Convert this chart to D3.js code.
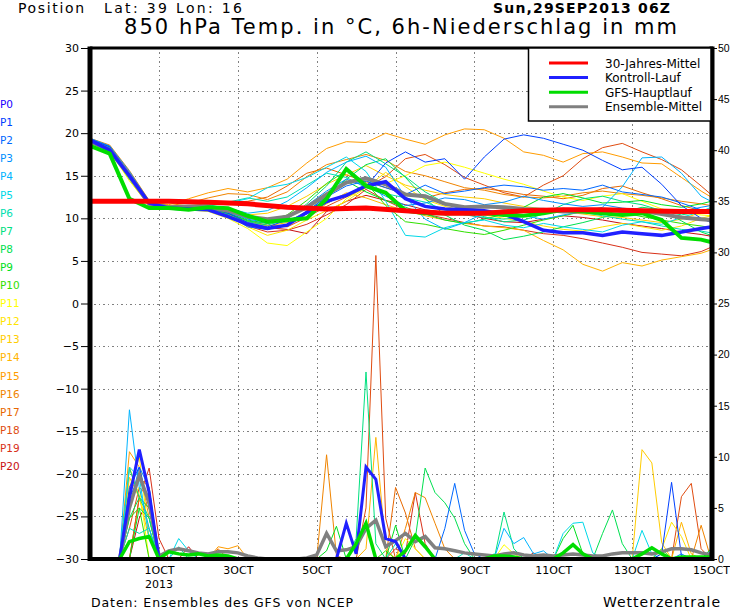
<!DOCTYPE html>
<html>
<head>
<meta charset="utf-8">
<script src="https://cdn.jsdelivr.net/npm/d3@7"></script>
<style>
body { margin: 0; background: #fff; }
svg { display: block; font-family: "DejaVu Sans", sans-serif; }
</style>
</head>
<body>
<svg id="chart"></svg>
<script>
// run start 29 Sep 2013 06Z, hours from there
let runStart = Date.UTC(2013, 8, 29, 6)
let lastHour = 378

let tempHours = [0,12,24,36,48,60,72,84,96,108,120,132,144,156,168,180,192,204,216,228,240,252,264,276,288,300,312,324,336,348,360,372,378]
let climHours = [0,24,48,72,96,120,144,168,192,216,240,264,288,312,336,360,378]

let tempClim = [12.0,12.0,12.0,11.9,11.7,11.3,11.1,11.2,10.9,10.6,10.6,10.9,11.0,11.0,10.9,10.8,10.8]
let tempGfs = [18.5,17.6,12.3,11.2,11.2,11.0,11.3,11.2,10.3,9.6,9.8,10.0,12.3,15.8,13.8,13.0,10.9,10.6,10.6,10.6,10.6,10.4,10.3,10.6,11.0,10.8,10.6,10.4,10.6,9.8,7.7,7.5,7.2]
let tempControl = [19.2,18.0,15.0,11.8,11.2,11.1,11.0,10.2,9.3,8.8,9.2,10.7,12.0,12.7,13.8,14.3,12.3,11.4,11.1,11.0,10.9,10.5,9.6,8.6,8.3,8.3,8.0,8.4,8.2,8.0,8.4,8.8,9.0]
let tempMean = [19.0,18.0,15.0,11.7,11.3,11.4,11.3,10.9,10.2,9.9,10.2,11.3,12.8,14.2,14.7,14.0,12.8,12.6,11.7,11.3,11.4,11.3,11.1,11.0,10.8,10.8,11.0,10.9,10.9,10.5,10.1,9.9,9.8]

let tempP1 = [19.3,18.4,15.2,11.9,11.3,11.2,11.3,10.6,9.5,9.0,9.8,10.5,11.8,12.8,13.7,16.5,17.8,16.6,17.0,14.6,17.2,19.3,19.8,19.4,18.7,18.0,16.8,15.7,16.0,14.0,11.5,10.0,9.5]
let tempP2 = [19.2,18.2,14.8,11.7,11.2,11.1,11.0,10.4,9.0,8.7,9.3,10.8,12.5,13.8,14.4,13.6,12.8,13.9,12.9,13.2,13.6,13.9,13.7,13.3,13.5,13.3,13.9,13.1,12.8,12.5,11.8,11.0,10.6]
let tempP3 = [19.4,18.5,15.5,12.0,11.4,11.3,11.2,10.7,9.9,9.5,10.1,11.5,13.2,14.6,13.8,12.6,11.5,11.8,12.4,12.2,11.6,11.9,12.6,12.1,11.7,11.4,11.6,11.2,11.0,10.6,10.8,11.3,11.5]
let tempP4 = [19.1,18.1,14.9,11.8,11.3,11.3,11.5,11.2,10.6,10.9,12.0,13.6,15.4,16.6,17.3,16.0,12.5,9.9,8.7,9.5,10.6,11.0,10.3,9.9,10.4,10.8,11.3,13.7,17.1,17.2,15.3,12.6,12.0]
let tempP5 = [19.2,18.3,15.0,11.8,11.4,11.5,11.6,11.8,12.3,13.6,14.0,14.8,16.0,17.2,15.5,12.0,8.0,7.8,8.9,9.5,9.8,9.2,8.9,9.4,9.0,8.7,8.4,9.2,9.6,9.3,10.1,10.8,11.3]
let tempP6 = [19.3,18.4,15.2,11.9,11.3,11.2,11.4,11.9,12.4,12.0,12.5,13.9,15.3,14.8,13.6,12.9,12.4,11.9,11.0,10.4,10.1,9.9,10.2,10.6,10.9,10.7,10.3,9.9,9.6,9.1,8.7,8.5,8.3]
let tempP7 = [19.0,18.0,14.6,11.6,11.2,11.2,11.0,10.3,9.6,9.2,9.9,11.7,13.8,16.6,17.8,16.4,14.9,13.1,11.8,10.9,10.2,9.6,9.8,10.5,11.6,12.3,12.6,12.0,11.6,10.9,10.4,10.8,11.0]
let tempP8 = [19.2,18.2,14.9,11.7,11.3,11.3,11.2,10.5,9.7,9.4,9.6,10.8,12.6,14.6,16.3,17.0,14.8,12.3,10.4,9.2,8.6,7.5,7.9,8.4,9.0,9.5,10.1,10.7,11.3,11.0,9.7,8.4,8.0]
let tempP9 = [19.1,18.2,14.7,11.6,11.2,11.1,11.1,10.6,9.8,9.4,10.0,11.4,12.9,14.4,13.1,12.1,11.3,10.5,9.8,9.4,9.9,10.5,11.3,12.5,12.9,12.4,11.8,11.9,12.1,11.6,11.3,11.7,12.0]
let tempP10 = [19.3,18.3,15.1,11.9,11.4,11.4,11.3,10.8,10.0,9.7,10.4,12.1,14.1,15.6,14.2,11.5,9.6,9.3,8.8,8.4,8.1,8.6,9.2,9.8,10.3,10.8,11.1,10.7,10.2,9.8,9.4,9.1,8.9]
let tempP11 = [19.0,17.9,14.4,11.5,11.1,11.0,10.8,10.0,8.8,7.1,6.8,8.4,10.0,12.3,13.7,14.1,15.0,16.2,16.6,16.0,15.3,14.6,14.0,13.2,12.5,12.1,12.6,12.9,12.0,11.1,10.6,10.4,10.3]
let tempP12 = [19.1,18.1,14.7,11.6,11.2,11.1,11.0,10.3,9.0,8.0,8.6,9.8,10.9,12.0,13.6,15.4,13.7,12.2,11.4,10.9,10.4,10.0,9.6,9.1,8.7,8.5,9.0,9.4,9.0,8.6,9.1,10.0,10.3]
let tempP13 = [19.2,18.2,14.9,11.7,11.3,11.2,11.2,10.9,10.4,10.6,11.4,12.6,14.0,15.1,16.2,15.0,13.9,13.3,12.8,12.5,12.3,11.8,11.4,11.1,10.8,10.5,10.2,10.1,9.8,9.5,9.9,10.7,11.2]
let tempP14 = [19.0,18.0,14.6,11.6,11.2,11.1,10.9,10.4,9.6,9.1,9.5,10.2,11.7,13.0,12.4,11.6,10.9,10.3,9.8,9.4,9.1,8.9,8.6,7.4,6.3,4.6,3.8,4.8,4.4,5.1,5.5,5.9,6.3]
let tempP15 = [19.3,18.5,15.4,12.0,11.6,12.3,13.0,13.5,13.1,13.6,14.6,16.5,18.2,19.0,18.9,20.0,19.3,18.7,19.8,20.5,20.4,19.4,17.8,17.4,16.6,17.6,17.8,17.2,16.5,16.4,14.8,13.2,12.5]
let tempP16 = [19.4,18.6,15.6,12.1,11.5,11.8,12.4,12.9,12.8,12.2,13.1,14.9,16.3,16.9,17.5,16.8,15.5,15.0,14.3,13.6,13.3,12.8,12.5,12.4,12.6,13.0,13.2,12.9,12.7,12.4,12.0,11.7,11.5]
let tempP17 = [19.2,18.3,15.0,11.8,11.4,11.5,11.7,11.9,12.0,12.5,13.8,15.3,15.9,15.1,14.3,13.6,12.9,12.4,13.0,13.4,13.5,13.2,12.8,12.6,12.3,12.7,13.5,13.8,13.0,12.3,11.5,10.9,10.6]
let tempP18 = [19.1,18.2,14.8,11.7,11.3,11.2,11.1,10.6,9.7,9.2,9.0,10.1,11.4,12.5,13.6,14.9,17.0,17.5,16.3,14.8,13.9,13.0,12.5,13.9,15.0,17.0,18.3,18.8,17.8,16.9,15.7,13.8,12.8]
let tempP19 = [19.3,18.4,15.1,11.8,11.3,11.1,10.9,10.2,9.1,8.4,8.6,9.3,10.4,11.6,13.4,12.1,11.0,10.5,10.0,9.5,9.1,9.0,8.6,8.2,8.0,7.6,7.1,6.6,6.0,5.8,5.6,6.1,6.6]
let tempP20 = [19.2,18.3,14.9,11.7,11.3,11.2,11.0,10.4,9.4,8.9,8.7,8.2,10.8,12.0,12.7,12.1,11.6,11.0,10.7,10.5,10.0,9.6,9.5,9.9,10.3,10.1,9.8,9.4,9.1,8.8,8.4,8.1,7.9]

// 6h precipitation, [step, mm] with step = 6h after run start; dry steps are 0
let rainControl = [[4,6.0],[5,10.7],[6,6.5],[26,3.5],[27,0.5],[28,9.0],[29,7.8],[30,2.0],[31,1.7]]
let rainGfs = [[4,1.7],[5,2.0],[6,2.2],[8,0.7],[9,0.5],[10,0.4],[11,0.5],[12,0.3],[13,0.4],[14,0.3],[27,1.5],[28,3.5],[32,0.8],[33,2.3],[34,1.2],[41,0.3],[42,0.3],[43,0.2],[48,0.6],[49,1.4],[50,0.5],[56,0.5],[57,1.1],[58,0.5],[60,0.2],[61,0.2],[62,0.2],[63,0.2]]
let rainMean = [0,0,0,0,5.0,8.2,5.5,0.3,0.8,1.0,0.8,0.6,0.5,0.7,0.7,0.6,0.3,0.1,0,0,0,0,0.1,0.4,2.5,0.8,0.9,1.2,3.0,3.8,1.2,1.8,2.5,1.7,2.2,1.1,1.0,0.8,0.6,0.5,0.4,0.3,0.5,0.6,0.4,0.3,0.4,0.3,0.4,0.5,0.4,0.3,0.3,0.5,0.6,0.6,0.6,0.5,0.7,1.0,1.0,0.9,0.6,0.4]

let rainP1 = [[4,7.0],[5,9.0],[6,5.0],[58,0.5],[59,7.5],[60,0.3]]
let rainP2 = [[4,6.0],[5,8.0],[6,6.0],[36,3.0],[37,7.4],[38,2.8],[39,0.5]]
let rainP3 = [[4,5.0],[5,9.0],[6,7.0],[60,0.5],[63,0.8]]
let rainP4 = [[4,14.6],[5,7.0],[6,3.0],[42,3.0],[43,1.5],[44,2.1],[45,0.5],[46,0.8]]
let rainP5 = [[4,9.0],[5,8.0],[6,2.0],[9,2.0],[10,0.8],[41,0.5],[48,2.5],[49,3.5],[50,3.6],[51,0.6],[56,2.8],[57,0.5]]
let rainP6 = [[4,3.0],[5,2.5],[6,3.0],[9,1.2],[31,1.5],[38,0.6]]
let rainP7 = [[4,8.9],[5,6.0],[6,4.0],[27,2.0],[28,18.3],[29,1.5],[42,4.6],[43,1.0]]
let rainP8 = [[4,4.0],[5,6.0],[6,5.0],[33,2.0],[34,8.9],[35,6.5],[36,5.5],[37,4.0],[38,1.5],[52,2.5],[53,4.8],[54,1.5]]
let rainP9 = [[5,5.0],[6,4.0],[24,0.8],[25,3.2],[31,3.3],[48,2.0],[49,3.3],[50,0.5],[63,1.0]]
let rainP10 = [[4,4.0],[5,5.0],[30,0.8],[58,1.0]]
let rainP11 = [[4,6.0],[5,7.0],[32,2.0],[33,1.0],[42,1.4],[43,0.5]]
let rainP12 = [[4,7.0],[5,10.0],[6,2.0],[58,1.0],[59,3.6],[60,2.2]]
let rainP13 = [[4,8.0],[5,6.0],[6,3.0],[56,10.7],[57,9.4],[58,1.6]]
let rainP14 = [[4,9.0],[5,6.0],[6,2.0],[28,1.0],[29,11.9],[30,1.0],[60,3.6],[61,0.5]]
let rainP15 = [[4,10.5],[5,9.0],[6,4.0],[13,1.2],[14,1.0],[15,1.3]]
let rainP16 = [[4,5.0],[5,8.0],[6,7.0],[24,10.2],[25,0.3],[32,3.0],[33,6.5],[34,6.0],[35,3.5],[36,1.0],[62,3.3]]
let rainP17 = [[5,6.0],[6,5.0],[13,1.0],[31,7.0],[32,4.5],[33,1.0]]
let rainP18 = [[4,3.0],[5,7.0],[6,6.0],[28,5.0],[29,29.7],[30,4.0],[60,6.1],[61,7.4],[62,1.0]]
let rainP19 = [[5,6.0],[6,8.9],[7,2.0],[31,1.0],[32,0.5],[33,6.5],[34,1.5],[45,0.6]]
let rainP20 = [[5,4.0],[6,6.0],[10,1.2]]

let memberNames = ['P0','P1','P2','P3','P4','P5','P6','P7','P8','P9','P10','P11','P12','P13','P14','P15','P16','P17','P18','P19','P20']
let memberColors = ['#2000ff','#0040ff','#0068ff','#0090ff','#00b4ff','#00d8e8','#00e0b0','#00e080','#00e050','#00e020','#30e000','#ffff00','#ffe400','#ffcc00','#ffb400','#ff9c00','#f08400','#e86800','#e04c10','#d83018','#c81010']

let legendNames = ['30-Jahres-Mittel','Kontroll-Lauf','GFS-Hauptlauf','Ensemble-Mittel']
let legendColors = ['#ff0000','#2020ff','#00dd00','#808080']

let tempTicks = [-30,-25,-20,-15,-10,-5,0,5,10,15,20,25,30]
let rainTicks = [0,5,10,15,20,25,30,35,40,45,50]

let width = 730
let height = 609
let plotLeft = 90, plotRight = 711, plotTop = 48, plotBottom = 559

let svg = d3.select('#chart').attr('width', width).attr('height', height)
svg.append('rect').attr('width', width).attr('height', height).attr('fill', '#fff')

let hourDate = (h) => new Date(runStart + h * 3600e3)

let xScale = d3.scaleUtc().domain([hourDate(0), hourDate(lastHour)]).range([plotLeft, plotRight])
let yTemp = d3.scaleLinear().domain([-30, 30]).range([plotBottom, plotTop])
let yRain = d3.scaleLinear().domain([0, 50]).range([plotBottom, plotTop])

let memberTemps = [tempControl, tempP1, tempP2, tempP3, tempP4, tempP5, tempP6, tempP7, tempP8, tempP9, tempP10,
    tempP11, tempP12, tempP13, tempP14, tempP15, tempP16, tempP17, tempP18, tempP19, tempP20]
let memberRains = [rainControl, rainP1, rainP2, rainP3, rainP4, rainP5, rainP6, rainP7, rainP8, rainP9, rainP10,
    rainP11, rainP12, rainP13, rainP14, rainP15, rainP16, rainP17, rainP18, rainP19, rainP20]

let steps = lastHour / 6 + 1
let rainSeries = (events) => {
    let vals = new Array(steps).fill(0)
    events.forEach(([s, v]) => { vals[s] = v })
    return vals
}

let tempLine = (hours) => d3.line()
    .x((d, i) => xScale(hourDate(hours[i])))
    .y((d) => yTemp(d))

let rainLine = d3.line()
    .x((d, i) => xScale(hourDate(i * 6)))
    .y((d) => yRain(d))

// grid
let dayTicks = d3.utcDay.every(2).range(hourDate(0), hourDate(lastHour + 1))
let grid = svg.append('g').attr('stroke', '#808080').attr('stroke-width', 1).attr('stroke-dasharray', '1,3,2,3')
grid.selectAll('.hgrid')
    .data(tempTicks.filter((t) => t > -30 && t < 30))
    .enter()
    .append('line')
    .attr('x1', plotLeft).attr('x2', plotRight)
    .attr('y1', (d) => Math.round(yTemp(d)) + 0.5).attr('y2', (d) => Math.round(yTemp(d)) + 0.5)
grid.selectAll('.vgrid')
    .data(dayTicks.filter((d) => xScale(d) < plotRight - 2))
    .enter()
    .append('line')
    .attr('x1', (d) => Math.round(xScale(d)) + 0.5).attr('x2', (d) => Math.round(xScale(d)) + 0.5)
    .attr('y1', plotTop).attr('y2', plotBottom)

svg.append('clipPath').attr('id', 'plot')
    .append('rect').attr('x', plotLeft).attr('y', plotTop).attr('width', plotRight - plotLeft).attr('height', plotBottom - plotTop)

let plot = svg.append('g').attr('clip-path', 'url(#plot)').attr('fill', 'none')

// ensemble members, thin
for (let i = 20; i >= 1; i--) {
    plot.append('path')
        .attr('d', tempLine(tempHours)(memberTemps[i]))
        .attr('stroke', memberColors[i])
        .attr('stroke-width', 1)
    plot.append('path')
        .attr('d', rainLine(rainSeries(memberRains[i])))
        .attr('stroke', memberColors[i])
        .attr('stroke-width', 1)
}

// thick lines
plot.append('path').attr('d', tempLine(tempHours)(tempMean)).attr('stroke', legendColors[3]).attr('stroke-width', 4)
plot.append('path').attr('d', rainLine(rainMean)).attr('stroke', legendColors[3]).attr('stroke-width', 3.5)
plot.append('path').attr('d', tempLine(tempHours)(tempControl)).attr('stroke', legendColors[1]).attr('stroke-width', 3.5)
plot.append('path').attr('d', rainLine(rainSeries(rainControl))).attr('stroke', legendColors[1]).attr('stroke-width', 3)
plot.append('path').attr('d', tempLine(tempHours)(tempGfs)).attr('stroke', legendColors[2]).attr('stroke-width', 4)
plot.append('path').attr('d', rainLine(rainSeries(rainGfs))).attr('stroke', legendColors[2]).attr('stroke-width', 3.5)
plot.append('path').attr('d', tempLine(climHours)(tempClim)).attr('stroke', legendColors[0]).attr('stroke-width', 5)

// frame
let frame = svg.append('g').attr('stroke', '#000')
frame.append('line').attr('x1', plotLeft).attr('x2', plotRight + 2).attr('y1', plotTop).attr('y2', plotTop).attr('stroke-width', 3)
frame.append('line').attr('x1', plotLeft).attr('x2', plotLeft).attr('y1', plotTop - 1.5).attr('y2', plotBottom + 2).attr('stroke-width', 5)
frame.append('line').attr('x1', plotRight + 1).attr('x2', plotRight + 1).attr('y1', plotTop - 1.5).attr('y2', plotBottom + 2).attr('stroke-width', 5)
frame.append('line').attr('x1', plotLeft).attr('x2', plotRight + 2).attr('y1', plotBottom).attr('y2', plotBottom).attr('stroke-width', 4)

// axes
let yAxisLeft = d3.axisLeft(yTemp).tickValues(tempTicks).tickSize(7).tickPadding(2)
let yAxisRight = d3.axisRight(yRain).tickValues(rainTicks).tickSize(3).tickPadding(1)
let xAxis = d3.axisBottom(xScale).tickValues(dayTicks).tickSize(0).tickPadding(7)
    .tickFormat((d) => d3.utcFormat('%-d%b')(d).toUpperCase())

let styleAxis = (g, size, family) => {
    g.select('.domain').remove()
    g.selectAll('text').attr('font-size', size).attr('font-family', family).attr('fill', '#000')
    g.selectAll('line').attr('stroke', '#000').attr('stroke-width', 1)
}

svg.append('g').attr('transform', 'translate(' + (plotLeft - 2) + ',0)').call(yAxisLeft).call(styleAxis, 11, '"DejaVu Sans", sans-serif')
svg.append('g').attr('transform', 'translate(' + (plotRight + 3) + ',0)').call(yAxisRight).call(styleAxis, 10.5, '"Liberation Sans", sans-serif')
svg.append('g').attr('transform', 'translate(0,' + plotBottom + ')').call(xAxis).call(styleAxis, 11, '"DejaVu Sans", sans-serif')

svg.append('text')
    .text('2013')
    .attr('x', xScale(dayTicks[0]))
    .attr('y', 588)
    .attr('text-anchor', 'middle')
    .attr('font-size', 11)

// legend
let legend = svg.append('g')
legend.append('rect')
    .attr('x', 528.5).attr('y', plotTop).attr('width', plotRight - 528.5).attr('height', 73)
    .attr('fill', '#fff').attr('stroke', '#000').attr('stroke-width', 1.5)
legendNames.forEach((name, i) => {
    let ly = 63 + i * 14.6
    legend.append('line')
        .attr('x1', 549).attr('x2', 588).attr('y1', ly).attr('y2', ly)
        .attr('stroke', legendColors[i]).attr('stroke-width', 3)
    legend.append('text')
        .text(name)
        .attr('x', 605).attr('y', ly + 4.5)
        .attr('font-size', 12)
})

// member labels
svg.selectAll('.plabel')
    .data(memberNames)
    .enter()
    .append('text')
    .text((d) => d)
    .attr('x', 0)
    .attr('y', (d, i) => 108 + i * 18.1)
    .attr('font-size', 10.5)
    .attr('fill', (d, i) => memberColors[i])

// titles
svg.append('text').text('Position').attr('x', 18).attr('y', 13).attr('font-size', 14)
    .attr('textLength', 66).attr('lengthAdjust', 'spacing')
svg.append('text').text('Lat: 39 Lon: 16').attr('x', 104).attr('y', 13).attr('font-size', 14)
    .attr('textLength', 138).attr('lengthAdjust', 'spacing')
svg.append('text').text('Sun,29SEP2013 06Z').attr('x', 493).attr('y', 13).attr('font-size', 14)
    .attr('font-weight', 'bold').attr('textLength', 177).attr('lengthAdjust', 'spacing')
svg.append('text').text('850 hPa Temp. in °C, 6h-Niederschlag in mm')
    .attr('x', 124).attr('y', 34).attr('font-size', 21)
    .attr('textLength', 553).attr('lengthAdjust', 'spacing')
svg.append('text').text('Daten: Ensembles des GFS von NCEP').attr('x', 91).attr('y', 607).attr('font-size', 12.5)
    .attr('textLength', 262).attr('lengthAdjust', 'spacing')
svg.append('text').text('Wetterzentrale').attr('x', 603).attr('y', 607).attr('font-size', 14)
    .attr('textLength', 117).attr('lengthAdjust', 'spacing')
</script>
</body>
</html>
